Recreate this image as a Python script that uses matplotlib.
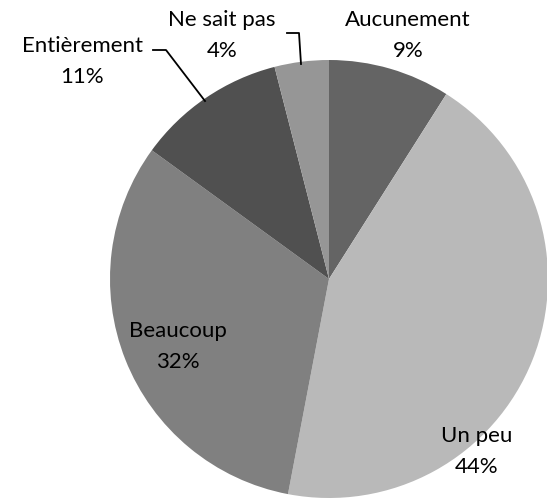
import matplotlib.pyplot as plt

# data, clockwise from 12 o'clock
labels = ['Aucunement', 'Un peu', 'Beaucoup', 'Entièrement', 'Ne sait pas']
values = [9, 44, 32, 11, 4]
colors = ['#646464', '#b9b9b9', '#808080', '#505050', '#969696']

W, H = 547, 504
fig = plt.figure(figsize=(W / 100, H / 100), dpi=100)
ax = fig.add_axes([0, 0, 1, 1])

# positions are measured from the top of the image, flip to y-up
def flip(y):
    return H - y

cx, cy, r = 329, 279, 219
ax.pie(values, colors=colors, startangle=90, counterclock=False,
       center=(cx, flip(cy)), radius=r, frame=True,
       wedgeprops=dict(linewidth=0))
ax.set_xlim(0, W)
ax.set_ylim(0, H)
ax.set_aspect('equal')
ax.axis('off')

font = dict(family='Lato', fontsize=16, color='black', ha='center', va='center')
label_pos = {
    'Aucunement': (408, 20),
    'Un peu': (477, 436),
    'Beaucoup': (178, 331),
    'Entièrement': (82, 46),
    'Ne sait pas': (222, 20),
}
for lab, v in zip(labels, values):
    x, y = label_pos[lab]
    ax.text(x, flip(y), lab, **font)
    ax.text(x, flip(y + 31), f'{v}%', **font)

# leader lines
ax.plot([153, 166, 205], [flip(50), flip(50), flip(101)], color='black', lw=1.3)
ax.plot([287, 299, 301], [flip(33), flip(33), flip(64)], color='black', lw=1.3)

fig.savefig('out.png', dpi=100)
